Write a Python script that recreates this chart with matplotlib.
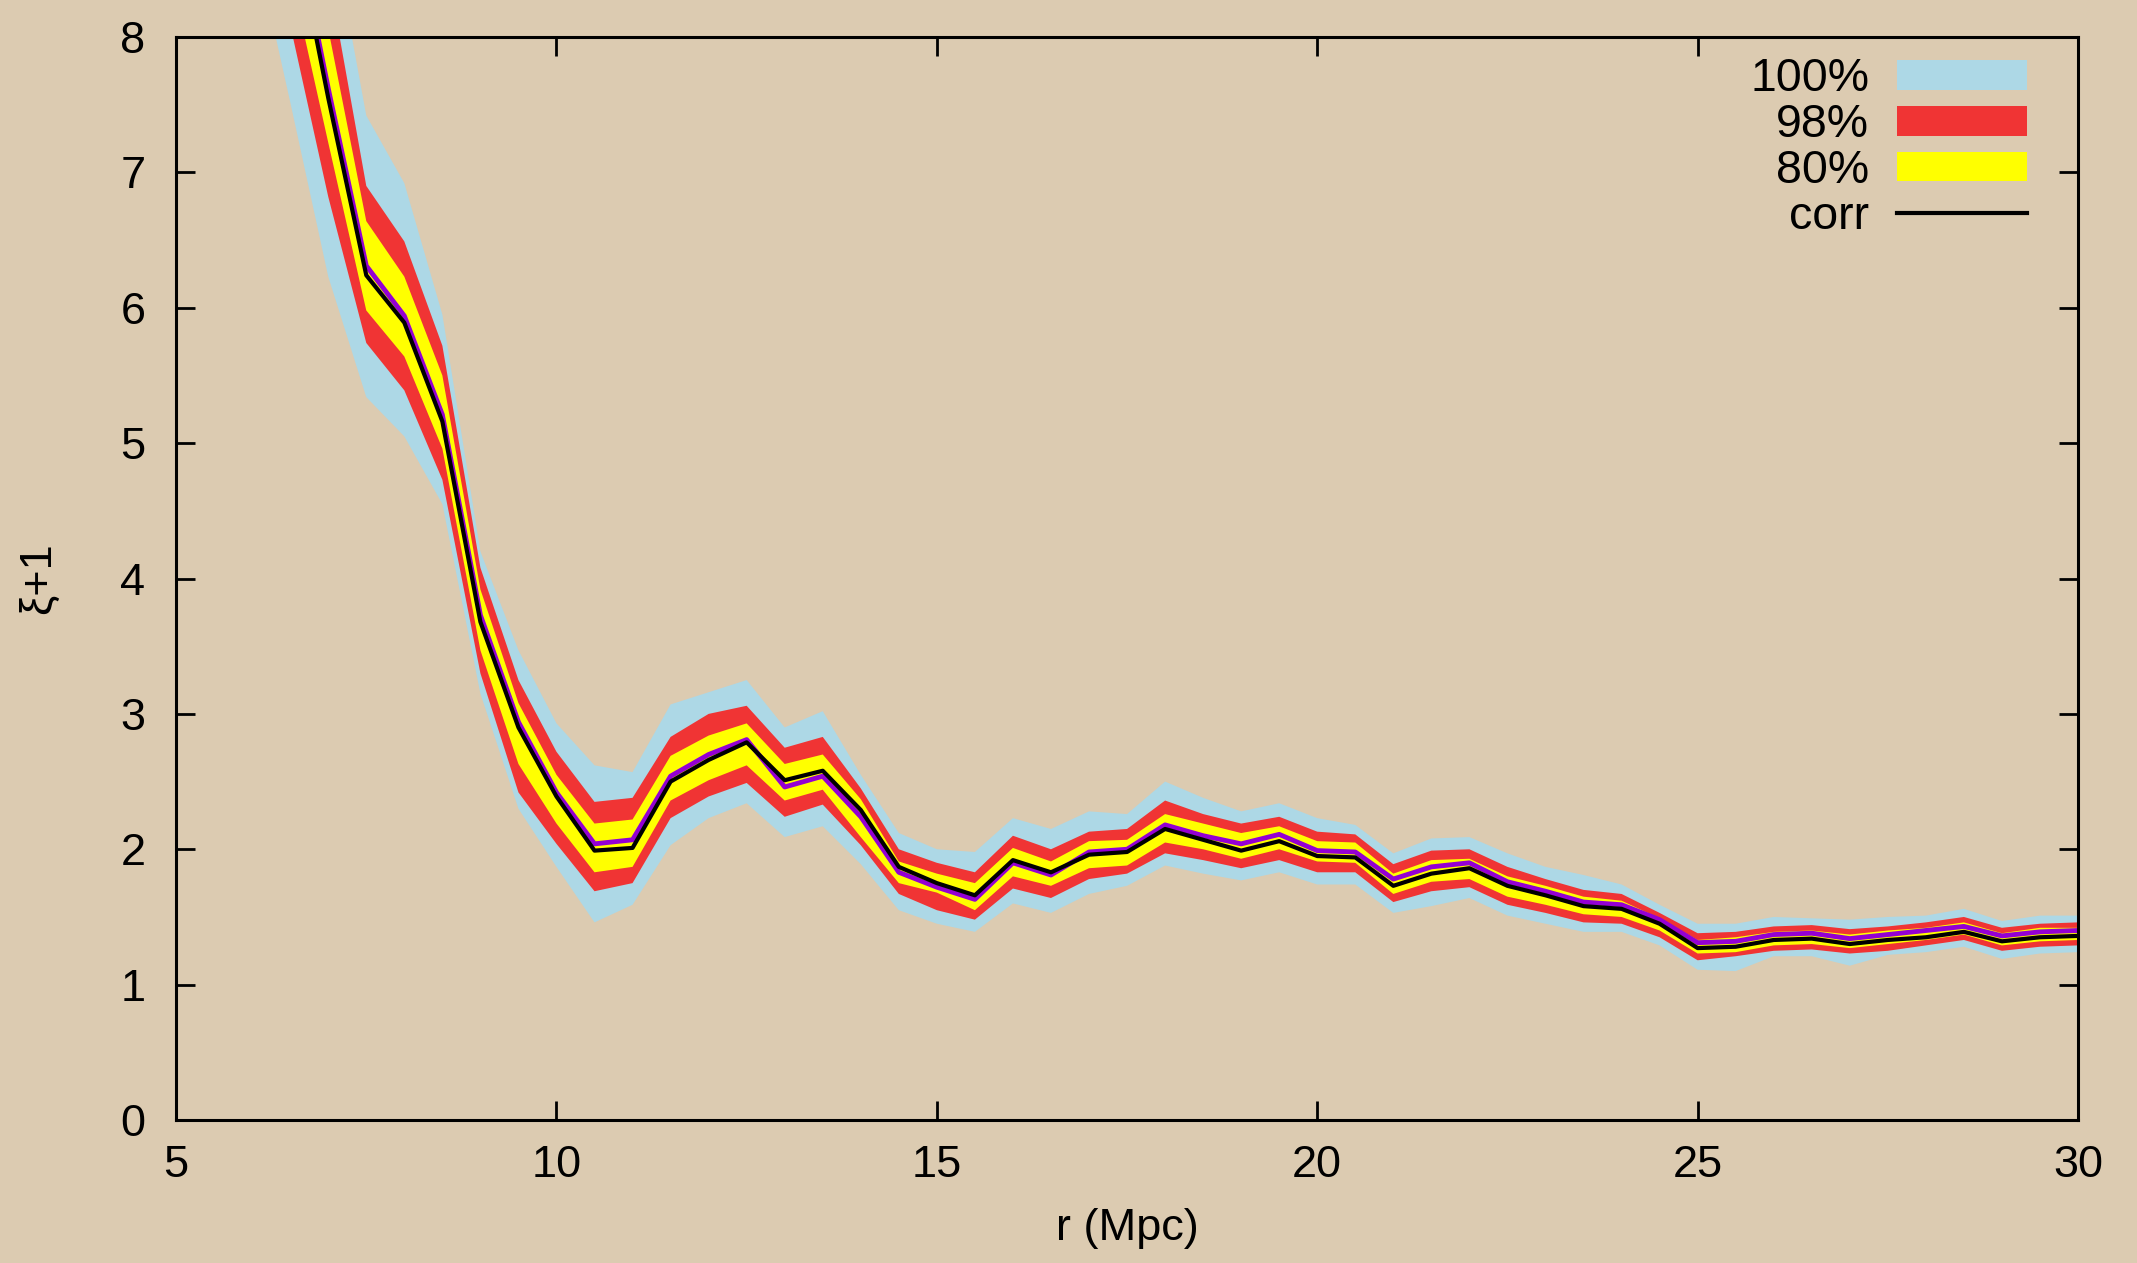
import matplotlib
matplotlib.use("Agg")
import matplotlib.pyplot as plt

plt.rcParams['font.family'] = ['Liberation Sans', 'DejaVu Sans']

r = [6, 6.5, 7, 7.5, 8, 8.5, 9, 9.5, 10, 10.5, 11, 11.5, 12, 12.5, 13, 13.5, 14, 14.5,
     15, 15.5, 16, 16.5, 17, 17.5, 18, 18.5, 19, 19.5, 20, 20.5, 21, 21.5, 22, 22.5,
     23, 23.5, 24, 24.5, 25, 25.5, 26, 26.5, 27, 27.5, 28, 28.5, 29, 29.5, 30]

corr = [10.3, 8.96, 7.55, 6.24, 5.89, 5.16, 3.68, 2.90, 2.39, 1.99, 2.01, 2.50, 2.66, 2.79,
        2.51, 2.58, 2.29, 1.87, 1.75, 1.66, 1.92, 1.83, 1.96, 1.98, 2.15, 2.07, 1.99, 2.06,
        1.95, 1.94, 1.73, 1.82, 1.86, 1.73, 1.66, 1.58, 1.56, 1.45, 1.27, 1.28, 1.33, 1.34,
        1.30, 1.33, 1.35, 1.39, 1.32, 1.35, 1.36]

median = [10.4, 9.02, 7.62, 6.31, 5.94, 5.21, 3.73, 2.94, 2.42, 2.04, 2.07, 2.54, 2.70, 2.81,
          2.46, 2.54, 2.24, 1.83, 1.72, 1.63, 1.90, 1.81, 1.98, 2.00, 2.18, 2.10, 2.04, 2.11,
          1.99, 1.98, 1.78, 1.87, 1.90, 1.76, 1.69, 1.61, 1.59, 1.48, 1.31, 1.32, 1.37, 1.38,
          1.34, 1.37, 1.40, 1.43, 1.36, 1.39, 1.40]

hi100 = [11.8, 10.3, 8.95, 7.42, 6.92, 5.95, 4.20, 3.47, 2.93, 2.62, 2.57, 3.07, 3.16, 3.25,
         2.90, 3.02, 2.55, 2.12, 2.00, 1.98, 2.23, 2.15, 2.28, 2.26, 2.50, 2.38, 2.28, 2.34,
         2.23, 2.18, 1.97, 2.08, 2.09, 1.97, 1.87, 1.81, 1.74, 1.59, 1.45, 1.45, 1.50, 1.49,
         1.48, 1.50, 1.51, 1.56, 1.47, 1.51, 1.51]
lo100 = [8.78, 7.52, 6.23, 5.34, 5.05, 4.55, 3.15, 2.30, 1.87, 1.46, 1.59, 2.03, 2.23, 2.34,
         2.09, 2.17, 1.89, 1.55, 1.45, 1.39, 1.60, 1.53, 1.67, 1.73, 1.88, 1.82, 1.77, 1.83,
         1.74, 1.74, 1.53, 1.58, 1.64, 1.51, 1.45, 1.39, 1.39, 1.29, 1.11, 1.10, 1.21, 1.21,
         1.14, 1.22, 1.24, 1.28, 1.19, 1.23, 1.24]

hi98 = [11.3, 9.9, 8.47, 6.90, 6.49, 5.72, 4.08, 3.25, 2.72, 2.35, 2.38, 2.83, 3.00, 3.06,
        2.75, 2.83, 2.45, 2.00, 1.90, 1.83, 2.10, 2.00, 2.13, 2.15, 2.36, 2.26, 2.19, 2.24,
        2.13, 2.11, 1.89, 1.99, 2.00, 1.87, 1.78, 1.70, 1.67, 1.53, 1.38, 1.39, 1.43, 1.44,
        1.41, 1.43, 1.46, 1.50, 1.42, 1.45, 1.46]
lo98 = [9.4, 8.09, 6.82, 5.74, 5.39, 4.73, 3.30, 2.42, 2.04, 1.69, 1.75, 2.23, 2.39, 2.49,
        2.24, 2.33, 2.03, 1.67, 1.55, 1.48, 1.71, 1.64, 1.78, 1.82, 1.97, 1.92, 1.86, 1.92,
        1.83, 1.83, 1.61, 1.69, 1.72, 1.59, 1.53, 1.46, 1.45, 1.35, 1.18, 1.21, 1.25, 1.26,
        1.23, 1.25, 1.29, 1.33, 1.25, 1.28, 1.29]

hi80 = [10.8, 9.5, 8.06, 6.64, 6.23, 5.50, 3.92, 3.08, 2.55, 2.19, 2.22, 2.69, 2.84, 2.93,
        2.63, 2.70, 2.37, 1.91, 1.82, 1.75, 2.01, 1.91, 2.06, 2.07, 2.26, 2.19, 2.12, 2.17,
        2.06, 2.05, 1.82, 1.92, 1.93, 1.80, 1.73, 1.65, 1.62, 1.49, 1.33, 1.35, 1.39, 1.40,
        1.37, 1.40, 1.42, 1.46, 1.38, 1.42, 1.42]
lo80 = [9.8, 8.48, 7.22, 5.98, 5.64, 4.96, 3.47, 2.63, 2.19, 1.83, 1.87, 2.36, 2.51, 2.62,
        2.36, 2.44, 2.09, 1.75, 1.68, 1.55, 1.80, 1.73, 1.86, 1.88, 2.05, 2.00, 1.93, 2.00,
        1.91, 1.90, 1.67, 1.76, 1.78, 1.65, 1.59, 1.52, 1.50, 1.40, 1.23, 1.24, 1.29, 1.30,
        1.27, 1.30, 1.33, 1.37, 1.29, 1.32, 1.33]

bg = '#dccbb1'

fig = plt.figure(figsize=(21.37, 12.63), dpi=100, facecolor=bg)
ax = fig.add_axes([0.0824, 0.1132, 0.890, 0.8575])
ax.set_facecolor(bg)

ax.fill_between(r, lo100, hi100, color='#add8e6', lw=0, label='100%')
ax.fill_between(r, lo98, hi98, color='#f03434', lw=0, label='98%')
ax.fill_between(r, lo80, hi80, color='#ffff00', lw=0, label='80%')
ax.plot(r, median, color='#9400d3', lw=3.5)
ax.plot(r, corr, color='black', lw=3, label='corr')

ax.set_xlim(5, 30)
ax.set_ylim(0, 8)
ax.set_xticks([5, 10, 15, 20, 25, 30])
ax.set_yticks(range(0, 9))
ax.tick_params(direction='in', length=14, width=2, labelsize=32.5,
               top=True, right=True, pad=18)
ax.tick_params(axis='y', pad=22)
for s in ax.spines.values():
    s.set_linewidth(2.2)

ax.set_xlabel('r (Mpc)', fontsize=32.5, labelpad=16)
ax.set_ylabel('ξ+1', fontsize=32.5, labelpad=44)

leg = ax.legend(loc='upper right', fontsize=33.5, frameon=False, markerfirst=False,
                handlelength=2.8, handleheight=0.6, handletextpad=0.6,
                labelspacing=0.04, borderaxespad=0.2, bbox_to_anchor=(0.988, 1.007))
for t in leg.get_texts():
    t.set_ha('right')

fig.savefig('out.png', dpi=100, facecolor=bg)
